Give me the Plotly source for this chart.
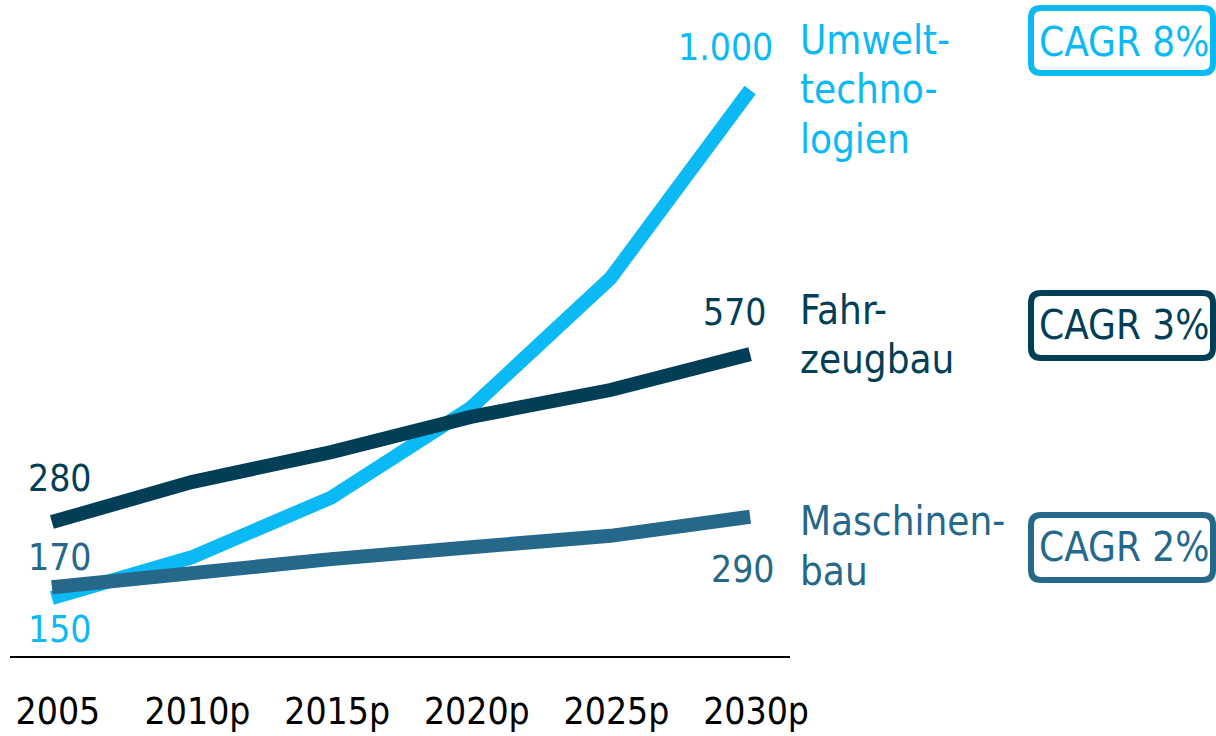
import plotly.graph_objects as go

categories = ["2005", "2010p", "2015p", "2020p", "2025p", "2030p"]
umwelt = [150, 218, 318, 468, 685, 1000]
fahrzeug = [277, 344, 394, 453, 498, 558]
maschinen = [168, 193, 215, 235, 254, 286]

start_labels = ["280", "170", "150"]
end_labels = ["1.000", "570", "290"]
name_lines = [["Umwelt-", "techno-", "logien"], ["Fahr-", "zeugbau"], ["Maschinen-", "bau"]]
cagr_labels = ["CAGR 8%", "CAGR 3%", "CAGR 2%"]

C_UM = "#0BB9F5"
C_FA = "#023F56"
C_MA = "#26688A"
FONT = "Liberation Sans Narrow, Arial Narrow, DejaVu Sans Condensed, sans-serif"
FS_NUM = 37
FS_TXT = 40

W, H = 1216, 736
MB = 80
PH = H - MB

xidx = list(range(len(categories)))

fig = go.Figure()
for vals, col in [(umwelt, C_UM), (fahrzeug, C_FA), (maschinen, C_MA)]:
    fig.add_trace(go.Scatter(x=xidx, y=vals, mode="lines",
                             line=dict(color=col, width=14), hoverinfo="skip"))

ann = []
def A(x, y, text, color, xanchor="center", xshift=0, yshift=0, xref="x", yref="y", size=FS_NUM):
    ann.append(dict(x=x, y=y, xref=xref, yref=yref, text=text, showarrow=False,
                    xanchor=xanchor, yanchor="middle", xshift=xshift, yshift=yshift,
                    font=dict(family=FONT, size=size, color=color)))

# start labels
A(0, fahrzeug[0], start_labels[0], C_FA, xshift=8, yshift=44)
A(0, maschinen[0], start_labels[1], C_MA, xshift=8, yshift=30)
A(0, umwelt[0], start_labels[2], C_UM, xshift=8, yshift=-32)
# end labels
A(5, umwelt[-1], end_labels[0], C_UM, xanchor="right", xshift=25, yshift=43)
A(5, fahrzeug[-1], end_labels[1], C_FA, xanchor="right", xshift=19, yshift=42)
A(5, maschinen[-1], end_labels[2], C_MA, xanchor="right", xshift=27, yshift=-53)

def py(p):
    return 1 - p / PH

# series names
name_pos = [(C_UM, [40, 89, 139]), (C_FA, [310, 359]), (C_MA, [521, 571])]
for (col, ys), lines in zip(name_pos, name_lines):
    for yy, t in zip(ys, lines):
        A(798 / W, py(yy), t, col, xanchor="left", xref="paper", yref="paper", size=FS_TXT)

# CAGR boxes
shapes = []
boxes = [(C_UM, 8, 73, 42), (C_FA, 293, 358, 325), (C_MA, 515, 580, 547)]
for (col, y0, y1, yc), lab in zip(boxes, cagr_labels):
    x0, x1, r = 1031, 1213, 10
    path = (f"M {(x0 + r)/W},{py(y0)} L {(x1 - r)/W},{py(y0)} "
            f"Q {x1/W},{py(y0)} {x1/W},{py(y0 + r)} L {x1/W},{py(y1 - r)} "
            f"Q {x1/W},{py(y1)} {(x1 - r)/W},{py(y1)} L {(x0 + r)/W},{py(y1)} "
            f"Q {x0/W},{py(y1)} {x0/W},{py(y1 - r)} L {x0/W},{py(y0 + r)} "
            f"Q {x0/W},{py(y0)} {(x0 + r)/W},{py(y0)} Z")
    shapes.append(dict(type="path", xref="paper", yref="paper", path=path,
                       line=dict(color=col, width=6), fillcolor="rgba(0,0,0,0)"))
    A(1124 / W, py(yc), lab, col, xref="paper", yref="paper", size=FS_TXT)

fig.update_layout(
    width=W, height=H,
    margin=dict(l=0, r=0, t=0, b=MB, pad=0, autoexpand=False),
    paper_bgcolor="white", plot_bgcolor="white",
    showlegend=False,
    annotations=ann, shapes=shapes,
    xaxis=dict(domain=[10 / W, 790 / W], range=[-0.3, 5.2857], automargin=False,
               tickmode="array", tickvals=xidx, ticktext=categories,
               showgrid=False, zeroline=False, showline=True, linecolor="black", linewidth=1.5,
               ticks="outside", ticklen=0, ticklabelstandoff=22, ticklabelshift=6,
               tickfont=dict(family=FONT, size=FS_NUM, color="black")),
    yaxis=dict(range=[52.9, 1150.6], visible=False, showgrid=False, zeroline=False,
               automargin=False),
)

fig.write_html("out.html", config={"displayModeBar": False},
               post_script="document.body.style.margin='0';document.body.style.overflow='hidden';")
